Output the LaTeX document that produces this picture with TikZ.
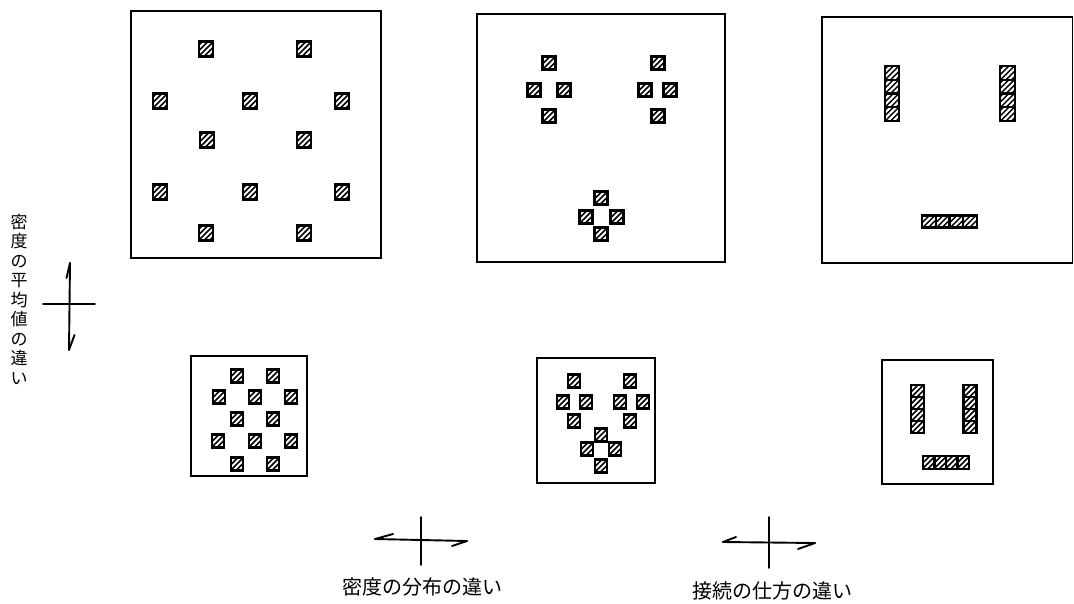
\documentclass[tikz,border=0pt]{standalone}
\usepackage{fontspec}
\newfontfamily\jpfont{Noto Sans CJK JP}
\tikzset{
  frame/.style={line width=1.6pt},
  hatchline/.style={line width=1.5pt},
  cellborder/.style={line width=2.2pt},
  arrowline/.style={line width=1.9pt, line cap=round},
  label/.style={font=\jpfont\fontsize{20}{20}\selectfont, inner sep=0pt},
}
\newcommand\hc[4]{%
  \begin{scope}
    \clip (#1-#3/2,#2-#4/2) rectangle (#1+#3/2,#2+#4/2);
    \foreach \k in {-2,-1,0,1,2}
      \draw[hatchline] (#1+\k*5.5-12,#2+12) -- (#1+\k*5.5+12,#2-12);
  \end{scope}
  \draw[cellborder] (#1-#3/2,#2-#4/2) rectangle (#1+#3/2,#2+#4/2);}
\begin{document}
\begin{tikzpicture}[x=1pt,y=-1pt]
\useasboundingbox (0,0) rectangle (1074,603);
% frames
\draw[frame] (131,11) rectangle (381,258);
\draw[frame] (477,14) rectangle (725,262);
\draw[frame] (822,17) rectangle (1072.5,263);
\draw[frame] (191,356) rectangle (307,476);
\draw[frame] (537,358) rectangle (655,483);
\draw[frame] (882,360) rectangle (993,484);
% top-left
\foreach \x/\y in {206/49,304/49,160/101,250/101,342/101,207/140,304/140,160/192,250/192,342/192,206/233,304/233}
  {\hc{\x}{\y}{14}{15}}
% top-middle
\foreach \x/\y in {549/63,534/90,564/90,549/116,658/63,645/90,670/90,658/116,601/198,586/217,617/217,601/234}
  {\hc{\x}{\y}{13}{13}}
% top-right
\foreach \y in {72.9,86.6,100.4,114.1}
  {\hc{892}{\y}{14.5}{13.75}\hc{1007.5}{\y}{14.5}{13.75}}
\foreach \x in {928.9,942.6,956.4,970.1}
  {\hc{\x}{221.5}{13.75}{12}}
% bottom-left
\foreach \x/\y in {237/376,273/376,219/397,255/397,291/397,237/419,273/419,218/441,255/441,291/441,237/464,273/464}
  {\hc{\x}{\y}{12.5}{13}}
% bottom-middle
\foreach \x/\y in {574/381,630/381,563/402,586/402,620/402,643/402,574/421,630/421,601/435,587/449,615/449,601/466}
  {\hc{\x}{\y}{12.5}{13}}
% bottom-right
\foreach \y in {391,403,415,427}
  {\hc{917.5}{\y}{13}{12}\hc{970}{\y}{13}{12}}
\foreach \x in {928.75,940.25,951.75,963.25}
  {\hc{\x}{462.5}{11.5}{13}}
% vertical axis symbol
\coordinate (vt) at (70,263); \coordinate (vb) at (69,350);
\coordinate (vl) at (43,304); \coordinate (vr) at (95,304);
\draw[arrowline] (vt) -- (vb);
\draw[arrowline] (vt) -- (66.5,278);
\draw[arrowline] (vb) -- (74.5,335);
\draw[arrowline] (vl) -- (vr);
% bottom symbol 1
\coordinate (al) at (375,539); \coordinate (ar) at (467,541);
\coordinate (at) at (421,517); \coordinate (ab) at (421,565);
\draw[arrowline] (al) -- (ar);
\draw[arrowline] (al) -- (393,534);
\draw[arrowline] (ar) -- (452,546);
\draw[arrowline] (at) -- (ab);
% bottom symbol 2
\coordinate (bl) at (723,542); \coordinate (br) at (815,543);
\coordinate (bt) at (769,517); \coordinate (bb) at (769,568);
\draw[arrowline] (bl) -- (br);
\draw[arrowline] (bl) -- (736,537);
\draw[arrowline] (br) -- (798,549);
\draw[arrowline] (bt) -- (bb);
% labels
\node[label] (t1) at (422,587) {密度の分布の違い};
\node[label] (t2) at (772,591) {接続の仕方の違い};
\node[font=\jpfont\fontsize{17}{19.5}\selectfont, inner sep=0pt, align=center] (t3) at (19,299)
  {密\\度\\の\\平\\均\\値\\の\\違\\い};
\end{tikzpicture}
\end{document}
